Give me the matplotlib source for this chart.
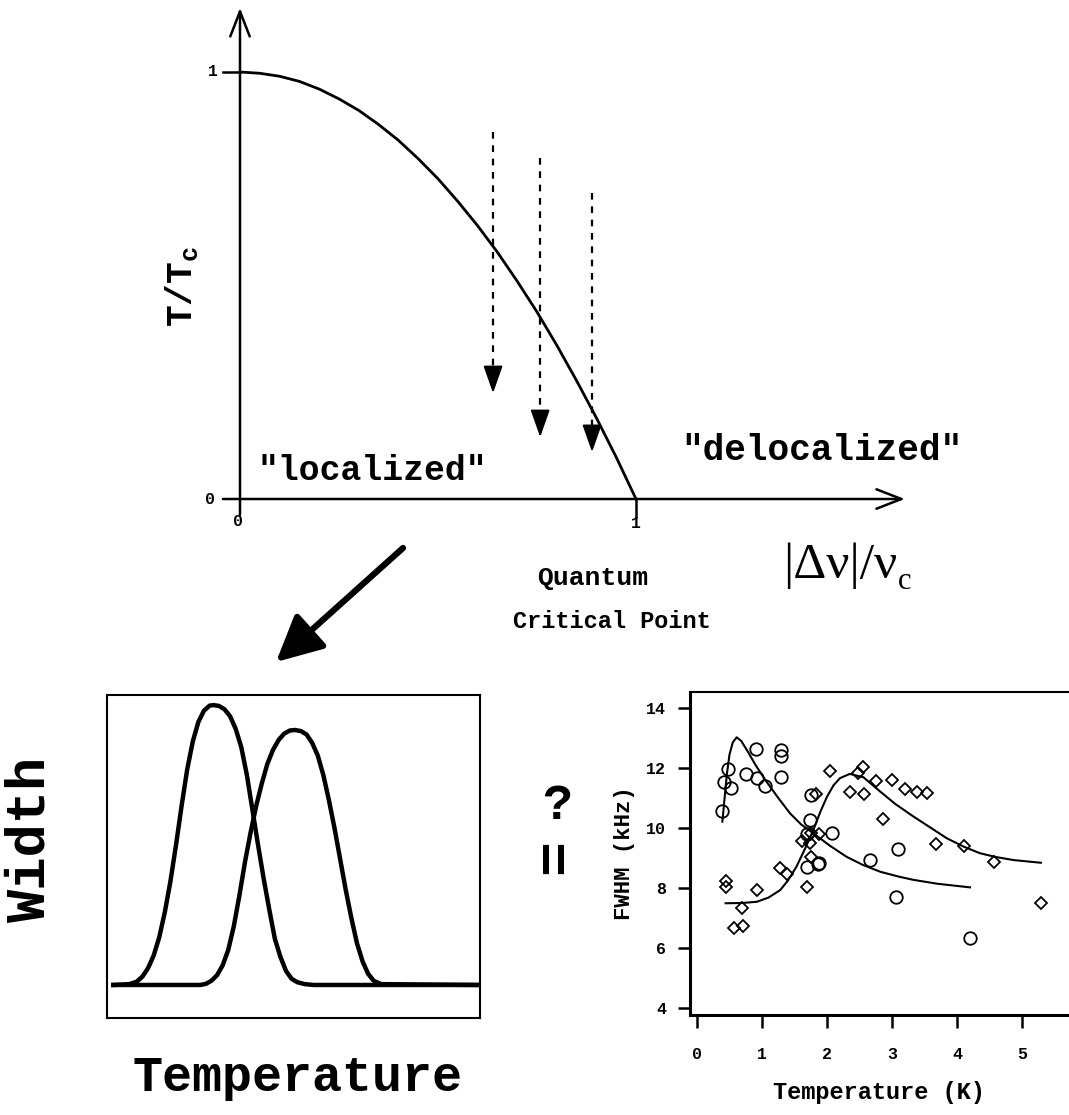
## Phase diagram sketch + FWHM vs temperature
import matplotlib
matplotlib.use('Agg')
import matplotlib.pyplot as plt
from matplotlib.patches import FancyArrowPatch

## data
# top panel: T/Tc boundary vs |dnu|/nu_c
phase_x = [0.0, 0.05, 0.10, 0.15, 0.20, 0.25, 0.30, 0.35, 0.40, 0.45, 0.50,
           0.55, 0.60, 0.65, 0.70, 0.75, 0.80, 0.85, 0.90, 0.95, 1.0]
phase_y = [1.0, 0.997, 0.99, 0.978, 0.96, 0.937, 0.91, 0.877, 0.84, 0.797, 0.75,
           0.697, 0.64, 0.578, 0.51, 0.438, 0.36, 0.277, 0.19, 0.098, 0.0]
# dashed cooling arrows
arrow_x = [0.639, 0.758, 0.889]
arrow_top = [0.859, 0.799, 0.717]
arrow_bottom = [0.248, 0.145, 0.110]

# bottom-left sketch: width vs temperature
sketch_x1 = [0.017, 0.06, 0.08, 0.095, 0.11, 0.125, 0.14, 0.155, 0.17, 0.185, 0.20,
             0.215, 0.23, 0.245, 0.26, 0.275, 0.285, 0.30, 0.315, 0.33, 0.345, 0.36,
             0.375, 0.39, 0.405, 0.42, 0.435, 0.45, 0.465, 0.48, 0.495, 0.51, 0.53,
             0.555, 0.991]
sketch_y1 = [0.0, 0.003, 0.012, 0.03, 0.06, 0.105, 0.17, 0.26, 0.37, 0.50, 0.64,
             0.77, 0.87, 0.94, 0.98, 0.998, 1.0, 0.997, 0.985, 0.96, 0.915, 0.85,
             0.75, 0.625, 0.50, 0.38, 0.27, 0.165, 0.10, 0.05, 0.022, 0.01, 0.003,
             0.0, 0.0]
sketch_x2 = [0.017, 0.25, 0.265, 0.28, 0.295, 0.31, 0.325, 0.34, 0.355, 0.37, 0.385,
             0.40, 0.415, 0.43, 0.445, 0.46, 0.475, 0.49, 0.504, 0.52, 0.535, 0.55,
             0.565, 0.58, 0.595, 0.61, 0.625, 0.64, 0.655, 0.67, 0.685, 0.70, 0.715,
             0.735, 0.991]
sketch_y2 = [0.0, 0.0, 0.004, 0.015, 0.035, 0.07, 0.125, 0.21, 0.32, 0.44, 0.545,
             0.64, 0.72, 0.79, 0.84, 0.875, 0.898, 0.909, 0.911, 0.907, 0.895, 0.865,
             0.82, 0.75, 0.66, 0.56, 0.45, 0.34, 0.24, 0.15, 0.085, 0.04, 0.015,
             0.003, 0.0]

# bottom-right: measured FWHM (kHz) vs T (K)
circ_T = [0.39, 0.42, 0.47, 0.53, 0.91, 0.76, 0.93, 1.05, 1.29, 1.29, 1.29, 1.75,
          1.74, 1.69, 2.08, 1.87, 1.86, 1.69, 2.66, 3.10, 3.06, 4.20]
circ_F = [10.58, 11.52, 11.96, 11.32, 12.63, 11.79, 11.66, 11.41, 12.60, 12.40, 11.69, 11.10,
          10.27, 9.80, 9.84, 8.84, 8.79, 8.71, 8.93, 9.29, 7.71, 6.32]
diam_T = [0.44, 0.44, 0.69, 0.57, 0.70, 0.92, 1.28, 1.38, 1.69, 1.61, 1.74, 1.76,
          1.88, 1.76, 2.04, 1.83, 2.35, 2.57, 2.48, 2.55, 2.75, 2.86, 3.00, 3.20,
          3.39, 3.54, 3.68, 4.11, 4.57, 5.30]
diam_F = [8.23, 8.02, 7.34, 6.66, 6.74, 7.93, 8.66, 8.47, 8.04, 9.57, 9.51, 9.82,
          9.79, 9.04, 11.91, 11.13, 11.21, 11.12, 11.82, 12.04, 11.57, 10.30, 11.60, 11.29,
          11.21, 11.16, 9.47, 9.41, 8.87, 7.51]
fit1_T = [0.39, 0.42, 0.46, 0.50, 0.55, 0.61, 0.68, 0.78, 0.90, 1.05, 1.25, 1.43,
          1.60, 1.79, 2.05, 2.30, 2.55, 2.82, 3.10, 3.33, 3.70, 4.20]
fit1_F = [10.21, 10.90, 11.80, 12.45, 12.85, 13.02, 12.90, 12.55, 12.10, 11.60, 11.00, 10.49,
          10.12, 9.82, 9.40, 9.04, 8.77, 8.54, 8.38, 8.27, 8.14, 8.02]
fit2_T = [0.44, 0.70, 0.92, 1.10, 1.28, 1.40, 1.53, 1.66, 1.79, 1.90, 2.00, 2.10,
          2.20, 2.35, 2.56, 2.82, 3.05, 3.33, 3.60, 3.84, 4.10, 4.35, 4.60, 4.87, 5.29]
fit2_F = [7.49, 7.50, 7.54, 7.68, 7.93, 8.25, 8.71, 9.30, 9.93, 10.55, 11.04, 11.42,
          11.66, 11.80, 11.69, 11.21, 10.80, 10.38, 10.00, 9.66, 9.38, 9.16, 9.03, 8.93, 8.84]

fwhm_ticks = [4, 6, 8, 10, 12, 14]
temp_ticks = [0, 1, 2, 3, 4, 5]

W, H = 1069, 1115
plt.rcParams['font.family'] = 'Liberation Mono'
plt.rcParams['font.weight'] = 'bold'
plt.rcParams['axes.labelweight'] = 'bold'
plt.rcParams['mathtext.fontset'] = 'custom'
plt.rcParams['mathtext.rm'] = 'Liberation Mono:bold'
plt.rcParams['mathtext.it'] = 'Liberation Mono:bold'

def rect(l, t, r, b):
    return [l / W, 1 - b / H, (r - l) / W, (b - t) / H]

def fpos(px, py):
    return px / W, 1 - py / H

fig = plt.figure(figsize=(W / 100, H / 100), dpi=100)

## top: phase diagram
ax0 = fig.add_axes(rect(0, 0, W, 640))
ax0.set_xlim(-240 / 396, (W - 240) / 396)
ax0.set_ylim((499 - 640) / 427, 499 / 427)
ax0.axis('off')

axis_arrow = dict(arrowstyle='->,head_length=0.9,head_width=0.35', lw=1.8,
                  color='black', mutation_scale=20, shrinkA=0, shrinkB=0)
ax0.annotate('', xy=(0, 1.150), xytext=(0, -0.037), arrowprops=axis_arrow)
ax0.annotate('', xy=(1.679, 0), xytext=(-0.043, 0), arrowprops=axis_arrow)
ax0.plot([-0.043, 0], [1, 1], color='black', lw=1.8)
ax0.plot([1, 1], [0, -0.042], color='black', lw=1.8)
ax0.plot(phase_x, phase_y, color='black', lw=2)

# dashed shafts + solid heads
for x, y0, y1 in zip(arrow_x, arrow_top, arrow_bottom):
    ax0.plot([x, x], [y0, y1 + 0.04], color='black', lw=1.6, ls=(0, (3, 3)))
    ax0.annotate('', xy=(x, y1), xytext=(x, y1 + 0.06),
                 arrowprops=dict(arrowstyle='-|>,head_length=0.85,head_width=0.3',
                                 lw=1.4, color='black', mutation_scale=20,
                                 shrinkA=0, shrinkB=0))

fig.text(*fpos(210, 499), '0', fontsize=12, ha='center', va='center')
fig.text(*fpos(213, 72), '1', fontsize=12, ha='center', va='center')
fig.text(*fpos(238, 522), '0', fontsize=12, ha='center', va='center')
fig.text(*fpos(636, 524), '1', fontsize=12, ha='center', va='center')

fig.text(*fpos(182, 286), r'$\mathrm{T/T_c}$', rotation=90, fontsize=26,
         ha='center', va='center', math_fontfamily='custom')
fig.text(*fpos(372, 480), '"localized"', fontsize=25, ha='center', va='baseline')
fig.text(*fpos(822, 460), '"delocalized"', fontsize=26, ha='center', va='baseline')
fig.text(*fpos(593, 578), 'Quantum', fontsize=19, ha='center', va='center')
fig.text(*fpos(612, 621), 'Critical Point', fontsize=17, ha='center', va='center')
fig.text(*fpos(783, 578), '|\u0394\u03bd|/\u03bd', fontsize=37, ha='left', va='baseline',
         family='Liberation Serif', fontweight='normal')
fig.text(*fpos(898, 589), 'c', fontsize=22, ha='left', va='baseline',
         family='Liberation Serif', fontweight='normal')

fig.add_artist(FancyArrowPatch(
    fpos(403, 548), fpos(276, 662), transform=fig.transFigure,
    arrowstyle='-|>,head_length=1.4,head_width=0.7', lw=4.5, color='black',
    mutation_scale=20, shrinkA=0, shrinkB=0))

## bottom-left: sketch
ax1 = fig.add_axes(rect(107, 695, 480, 1018))
ax1.plot(sketch_x1, sketch_y1, color='black', lw=3.2)
ax1.plot(sketch_x2, sketch_y2, color='black', lw=3.2)
ax1.set_xlim(0, 1)
ax1.set_ylim(-0.118, 1.036)
ax1.set_xticks([])
ax1.set_yticks([])
for s in ax1.spines.values():
    s.set_linewidth(1.5)

fig.text(*fpos(30, 840), 'Width', rotation=90, fontsize=40, ha='center', va='center')
fig.text(*fpos(297, 1078), 'Temperature', fontsize=36, ha='center', va='center')

fig.text(*fpos(557, 806), '?', fontsize=36, ha='center', va='center')
fig.text(*fpos(556, 856), '=', rotation=90, fontsize=42, ha='center', va='center')

## bottom-right: data
ax2 = fig.add_axes(rect(690, 692, 1068, 1015))
ax2.plot(fit1_T, fit1_F, color='black', lw=1.5)
ax2.plot(fit2_T, fit2_F, color='black', lw=1.5)
ax2.plot(circ_T, circ_F, 'o', mfc='none', mec='black', ms=9, mew=1.3)
ax2.plot(diam_T, diam_F, 'D', mfc='none', mec='black', ms=6.5, mew=1.3)
ax2.set_xlim(-0.108, 5.708)
ax2.set_ylim(3.767, 14.53)
ax2.set_xticks(temp_ticks)
ax2.set_yticks(fwhm_ticks)
ax2.tick_params(direction='out', length=9, width=1.8, labelsize=12)
ax2.tick_params(axis='x', pad=14)
ax2.tick_params(axis='y', pad=8)
ax2.spines['right'].set_visible(False)
ax2.spines['left'].set_linewidth(2.2)
ax2.spines['bottom'].set_linewidth(2.2)
ax2.spines['top'].set_linewidth(1.5)
ax2.set_xlabel('Temperature (K)', fontsize=17, labelpad=14)
ax2.set_ylabel('FWHM (kHz)', fontsize=16, labelpad=8)

fig.savefig('out.png', dpi=100)
